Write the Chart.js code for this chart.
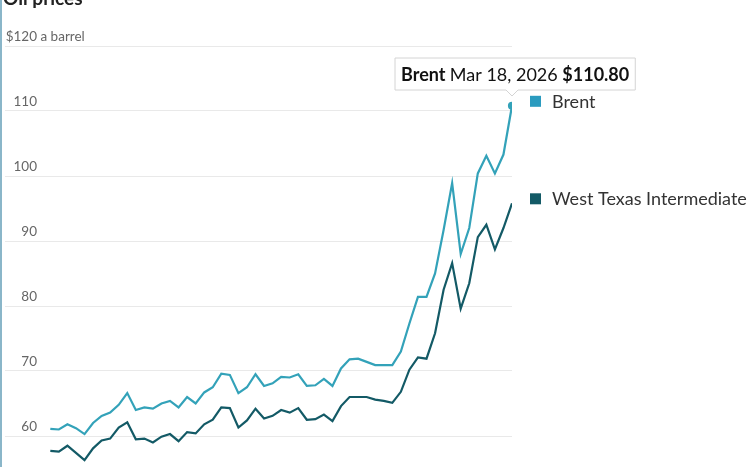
<!DOCTYPE html>
<html>
<head>
<meta charset="utf-8">
<script src="https://cdn.jsdelivr.net/npm/chart.js@4.4.1/dist/chart.umd.min.js"></script>
<style>
  html, body { margin: 0; padding: 0; background: #fff; }
  #wrap { position: relative; width: 751px; height: 467px; border-left: 2px solid #8ab6c9; box-sizing: border-box; }
  canvas { display: block; }
</style>
</head>
<body>
<div id="wrap"><canvas id="oil"></canvas></div>
<script>
// daily closes, oldest first, ending Mar 18, 2026
const brent = [
  61.1, 61.0, 61.8, 61.2, 60.3, 62.0, 63.1, 63.6, 64.8, 66.6,
  64.0, 64.4, 64.2, 65.0, 65.4, 64.4, 66.0, 65.0, 66.7, 67.5,
  69.6, 69.4, 66.6, 67.5, 69.5, 67.7, 68.1, 69.1, 69.0, 69.5,
  67.7, 67.8, 68.8, 67.7, 70.4, 71.8, 71.9, 71.4, 70.9, 70.9,
  70.9, 73.0, 77.3, 81.4, 81.4, 85.0, 91.7, 98.9, 88.0, 92.0,
  100.4, 103.1, 100.4, 103.3, 110.8
];
const wti = [
  57.7, 57.6, 58.5, 57.4, 56.3, 58.1, 59.3, 59.6, 61.3, 62.1,
  59.5, 59.6, 59.0, 59.9, 60.3, 59.2, 60.6, 60.4, 61.8, 62.5,
  64.4, 64.3, 61.3, 62.4, 64.2, 62.7, 63.1, 64.0, 63.6, 64.3,
  62.5, 62.6, 63.3, 62.3, 64.6, 66.0, 66.0, 66.0, 65.6, 65.4,
  65.1, 66.8, 70.2, 72.1, 71.9, 75.8, 82.5, 86.6, 79.6, 83.5,
  90.6, 92.5, 88.7, 92.0, 95.8
];
const yTicks = [60, 70, 80, 90, 100, 110, 120];
const seriesNames = ['Brent', 'West Texas Intermediate'];
const lastDate = 'Mar 18, 2026';

const brentColor = '#33a2b9';
const brentSquare = '#2a9bbf';
const wtiColor = '#135a66';
const font = 'Lato, "Noto Sans", sans-serif';

const asPoints = arr => arr.map((v, i) => ({x: i, y: v}));

const extras = {
  id: 'extras',
  afterDraw(chart) {
    const c = chart.ctx;
    const ys = chart.scales.y;
    const xs = chart.scales.x;
    c.save();
    // title, cut by the top edge
    c.fillStyle = '#222';
    c.font = 'bold 19px ' + font;
    c.textBaseline = 'alphabetic';
    c.textAlign = 'left';
    c.fillText('Oil prices', 1, 5);

    // y labels sit above their gridlines
    c.font = '13.5px ' + font;
    c.fillStyle = '#666';
    yTicks.forEach(v => {
      const y = ys.getPixelForValue(v) - 5;
      c.textAlign = 'right';
      c.fillText(v === 120 ? '$' + v : String(v), 35, y);
      if (v === 120) {
        c.textAlign = 'left';
        c.fillText(' a barrel', 35, y);
      }
    });

    // end labels
    const ends = [
      {name: seriesNames[0], v: brent[brent.length - 1], col: brentSquare},
      {name: seriesNames[1], v: wti[wti.length - 1], col: wtiColor}
    ];
    c.font = '18px ' + font;
    c.textAlign = 'left';
    c.textBaseline = 'middle';
    ends.forEach(e => {
      const y = ys.getPixelForValue(e.v) - 4;
      c.fillStyle = e.col;
      c.fillRect(528, y - 6, 11, 11);
      c.fillStyle = '#333';
      c.fillText(e.name, 550, y);
    });

    // tooltip for the last Brent point
    const px = xs.getPixelForValue(brent.length - 1);
    const parts = [
      {t: seriesNames[0] + ' ', f: 'bold 18px ' + font},
      {t: lastDate + ' ', f: '18px ' + font},
      {t: '$' + brent[brent.length - 1].toFixed(2), f: 'bold 18px ' + font}
    ];
    let w = 0;
    parts.forEach(p => { c.font = p.f; p.w = c.measureText(p.t).width; w += p.w; });
    const bx = 393, by = 58, bw = w + 12, bh = 32;
    c.beginPath();
    c.moveTo(bx, by);
    c.lineTo(bx + bw, by);
    c.lineTo(bx + bw, by + bh);
    c.lineTo(px + 6, by + bh);
    c.lineTo(px, by + bh + 6);
    c.lineTo(px - 6, by + bh);
    c.lineTo(bx, by + bh);
    c.closePath();
    c.fillStyle = '#fff';
    c.fill();
    c.strokeStyle = '#d4d4d4';
    c.lineWidth = 1;
    c.stroke();
    let tx = bx + 6;
    c.fillStyle = '#111';
    c.textBaseline = 'middle';
    parts.forEach(p => { c.font = p.f; c.fillText(p.t, tx, by + bh / 2 + 1); tx += p.w; });
    c.restore();
  }
};

new Chart(document.getElementById('oil'), {
  type: 'line',
  data: {
    datasets: [{
      label: seriesNames[0],
      data: asPoints(brent),
      borderColor: brentColor,
      backgroundColor: brentColor,
      borderWidth: 2.2,
      pointRadius: ctx => ctx.dataIndex === brent.length - 1 ? 3 : 0,
      tension: 0
    }, {
      label: seriesNames[1],
      data: asPoints(wti),
      borderColor: wtiColor,
      backgroundColor: wtiColor,
      borderWidth: 2.2,
      pointRadius: 0,
      tension: 0
    }]
  },
  plugins: [extras],
  options: {
    responsive: true,
    maintainAspectRatio: false,
    animation: false,
    layout: { autoPadding: false, padding: { left: 3, top: 46, right: 239, bottom: 0 } },
    plugins: { legend: { display: false }, tooltip: { enabled: false } },
    events: [],
    scales: {
      x: {
        type: 'linear',
        min: -5.3,
        max: brent.length - 1,
        display: false
      },
      y: {
        min: 120 - 421 / 6.5,
        max: 120,
        afterBuildTicks: s => { s.ticks = yTicks.map(v => ({value: v})); },
        afterFit: s => { s.width = 0; },
        ticks: { display: false },
        border: { display: false },
        grid: { color: '#e9e9e9', lineWidth: 1, drawTicks: false }
      }
    }
  }
});
</script>
</body>
</html>
